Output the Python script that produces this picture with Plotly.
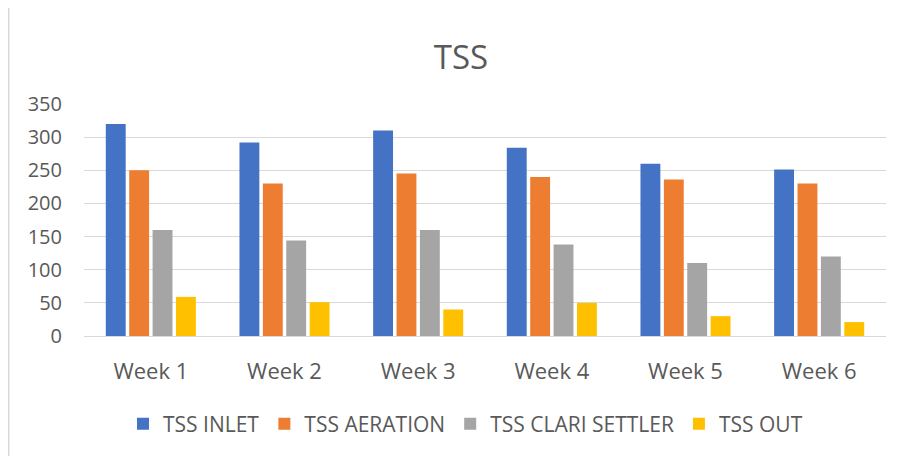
import plotly.graph_objects as go

weeks = ["Week 1", "Week 2", "Week 3", "Week 4", "Week 5", "Week 6"]
tss_inlet = [320, 292, 310, 284, 260, 251]
tss_aeration = [250, 230, 245, 240, 236, 230]
tss_clari = [160, 144, 160, 138, 110, 120]
tss_out = [59, 51, 40, 50, 30, 21]

series = [
    ("TSS INLET", tss_inlet, "#4472C4"),
    ("TSS AERATION", tss_aeration, "#ED7D31"),
    ("TSS CLARI SETTLER", tss_clari, "#A5A5A5"),
    ("TSS OUT", tss_out, "#FFC000"),
]

fig = go.Figure()
for name, vals, color in series:
    fig.add_trace(go.Bar(x=weeks, y=vals, name=name, marker=dict(color=color, line=dict(width=0))))

# page body has an 8px margin, so the figure is sized to fit the window
W, H = 894, 448
ml, mr, mt, mb = 76, 16, 96, 120
pw = W - ml - mr
ph = H - mt - mb

fig.update_layout(
    width=W, height=H,
    margin=dict(l=ml, r=mr, t=mt, b=mb),
    paper_bgcolor="white", plot_bgcolor="white",
    font=dict(family="Open Sans", color="#595959", size=20),
    title=dict(text="TSS", x=453 / W, xanchor="center", y=1 - 49 / H, yanchor="middle",
               font=dict(size=33, color="#595959", family="Open Sans")),
    barmode="group", bargap=0.3, bargroupgap=0.15,
    showlegend=True,
    legend=dict(orientation="h", x=(123 - 8 - ml) / pw, xanchor="left", y=-(416 - (mt + ph)) / ph,
                yanchor="middle", font=dict(size=21, color="#595959"), itemwidth=30,
                traceorder="normal"),
    xaxis=dict(showgrid=False, showline=False, ticks="", tickfont=dict(size=22, color="#595959"),
               ticklabelstandoff=20),
    yaxis=dict(range=[0, 350], dtick=50, showgrid=True, gridcolor="#D9D9D9", gridwidth=1,
               zeroline=True, zerolinecolor="#D9D9D9", zerolinewidth=1, showline=False,
               ticks="", tickfont=dict(size=20, color="#595959"), ticklabelstandoff=21),
)

fig.add_shape(type="line", xref="paper", yref="paper",
              x0=(0.5 - ml) / pw, x1=(0.5 - ml) / pw,
              y0=(mt + ph + 2) / ph, y1=(mt + ph - H) / ph,
              line=dict(color="#D9D9D9", width=2))

fig.write_html("out.html")
